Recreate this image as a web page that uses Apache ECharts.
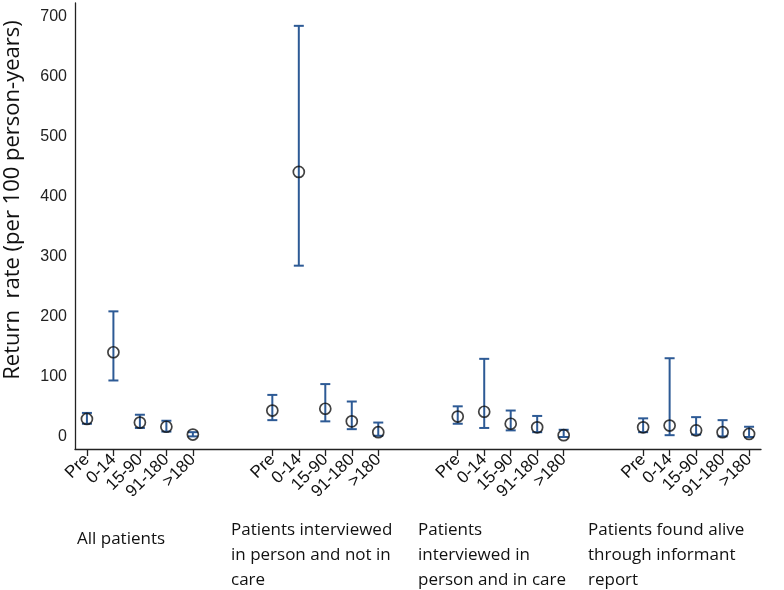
<!DOCTYPE html>
<html>
<head>
<meta charset="utf-8">
<script src="https://cdn.jsdelivr.net/npm/echarts@6/dist/echarts.min.js"></script>
<style>html,body{margin:0;padding:0;background:#fff}#c{width:784px;height:590px}</style>
</head>
<body>
<div id="c"></div>
<script>
// ---- data ----
var periods = ['Pre', '0-14', '15-90', '91-180', '>180'];
var groupNames = [
  'All patients',
  'Patients interviewed\nin person and not in\ncare',
  'Patients\ninterviewed in\nperson and in care',
  'Patients found alive\nthrough informant\nreport'
];
var allMean = [30, 141, 24, 17, 4];
var allLow = [22, 94, 15, 9, 1];
var allHigh = [40, 209, 37, 27, 8];
var notInCareMean = [44, 441, 47, 26, 8];
var notInCareLow = [28, 285, 26, 13, 2];
var notInCareHigh = [70, 684, 88, 59, 24];
var inCareMean = [34, 42, 22, 16, 3];
var inCareLow = [22, 15, 11, 8, 0];
var inCareHigh = [51, 130, 44, 35, 12];
var informantMean = [16, 19, 11, 8, 5];
var informantLow = [8, 3, 4, 1, 0];
var informantHigh = [31, 131, 33, 28, 17];
var yTicks = [0, 100, 200, 300, 400, 500, 600, 700];
var yTitle = 'Return  rate (per 100 person-years)';

// ---- build ----
var groups = [
  [allMean, allLow, allHigh],
  [notInCareMean, notInCareLow, notInCareHigh],
  [inCareMean, inCareLow, inCareHigh],
  [informantMean, informantLow, informantHigh]
];
var GAP = 2;
var points = [], bars = [], xTicks = [], xLabelMap = {};
groups.forEach(function (g, gi) {
  periods.forEach(function (p, pi) {
    var x = gi * (periods.length + GAP) + pi;
    xTicks.push(x);
    xLabelMap[x] = p;
    points.push([x, g[0][pi]]);
    bars.push([x, g[1][pi], g[2][pi]]);
  });
});

var chart = echarts.init(document.getElementById('c'), null, {renderer: 'canvas'});
var barColor = '#2d5a95';
var groupX = [77, 231, 418, 588];
var groupY = [527, 518, 518, 518];
var graphics = groupNames.map(function (n, i) {
  return {
    type: 'text', left: groupX[i], top: groupY[i],
    style: {text: n, font: '17px "Open Sans", sans-serif', fill: '#111', lineHeight: 25}
  };
});
graphics.push({
  type: 'text', x: 2, y: 200, rotation: Math.PI / 2,
  style: {text: yTitle, font: '22px "Open Sans", sans-serif', fill: '#111',
          align: 'center', verticalAlign: 'top'}
});

chart.setOption({
  backgroundColor: '#ffffff',
  animation: false,
  grid: {left: 75, right: 23, top: 3, bottom: 141, containLabel: false, outerBoundsMode: 'none'},
  xAxis: {
    type: 'value', min: -0.45, max: 25.45,
    splitLine: {show: false},
    axisLine: {show: true, onZero: false, lineStyle: {color: '#222', width: 1.3}},
    axisTick: {show: true, customValues: xTicks, length: 7, lineStyle: {color: '#222', width: 1.3}},
    axisLabel: {
      customValues: xTicks, rotate: 45, margin: 8,
      fontFamily: '"Liberation Sans", Arial, sans-serif', fontSize: 17, color: '#111',
      formatter: function (v) { return xLabelMap[Math.round(v)] || ''; }
    }
  },
  yAxis: {
    type: 'value', min: -20, max: 722,
    splitLine: {show: false},
    axisLine: {show: true, onZero: false, lineStyle: {color: '#222', width: 1.3}},
    axisTick: {show: false},
    axisLabel: {
      customValues: yTicks, margin: 8,
      fontFamily: '"Liberation Sans", Arial, sans-serif', fontSize: 16, color: '#222'
    }
  },
  graphic: graphics,
  series: [
    {
      type: 'custom',
      data: bars,
      encode: {x: 0, y: [1, 2]},
      z: 2,
      renderItem: function (params, api) {
        var lo = api.coord([api.value(0), api.value(1)]);
        var hi = api.coord([api.value(0), api.value(2)]);
        var hw = 5;
        var st = {stroke: barColor, lineWidth: 2, fill: null};
        return {
          type: 'group',
          children: [
            {type: 'line', shape: {x1: lo[0], y1: lo[1], x2: hi[0], y2: hi[1]}, style: st},
            {type: 'line', shape: {x1: lo[0] - hw, y1: lo[1], x2: lo[0] + hw, y2: lo[1]}, style: st},
            {type: 'line', shape: {x1: hi[0] - hw, y1: hi[1], x2: hi[0] + hw, y2: hi[1]}, style: st}
          ]
        };
      }
    },
    {
      type: 'scatter',
      data: points,
      z: 3,
      symbol: 'circle',
      symbolSize: 11,
      itemStyle: {color: 'rgba(0,0,0,0)', borderColor: '#111', borderWidth: 1.7}
    }
  ]
});
</script>
</body>
</html>
